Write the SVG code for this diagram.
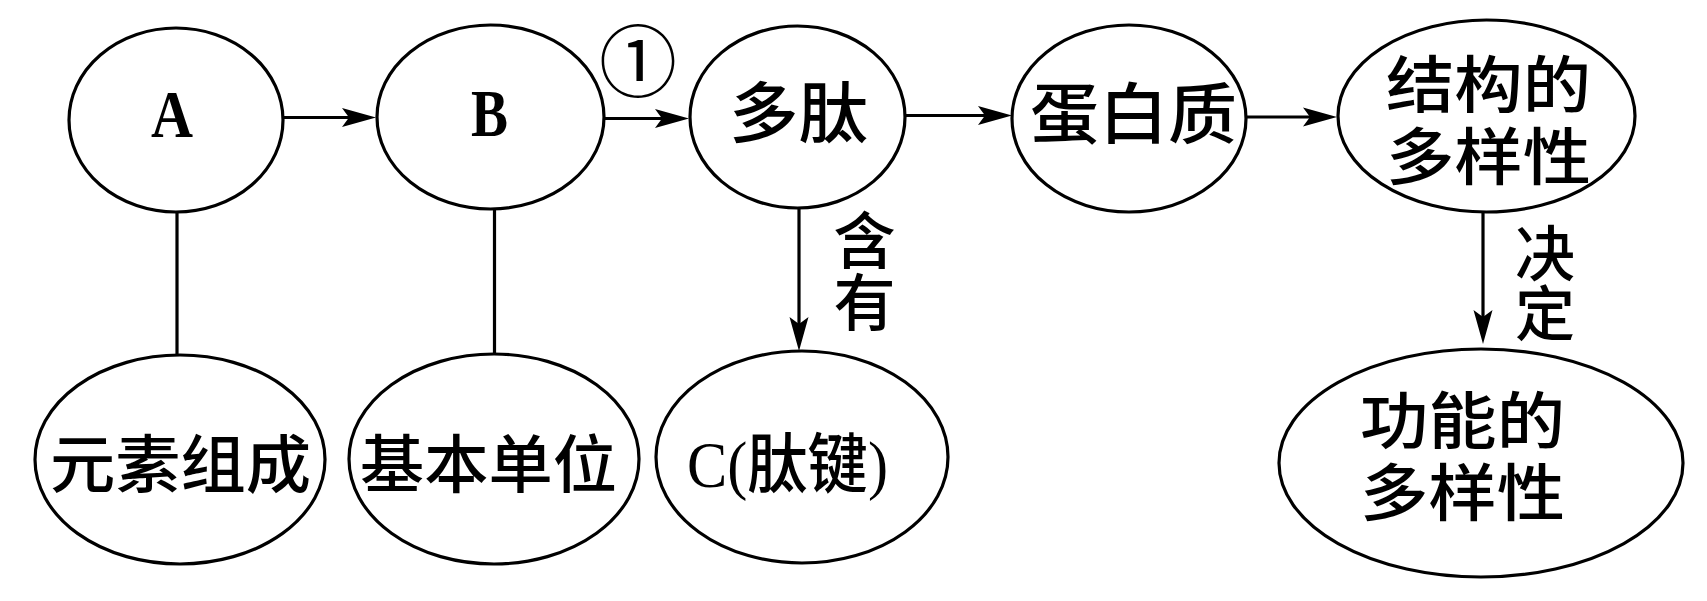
<svg xmlns="http://www.w3.org/2000/svg" width="1707" height="601" viewBox="0 0 1707 601">
<style>
.node{fill:#fff;stroke:#000;stroke-width:3.2}
.cn{font-family:"Noto Sans CJK SC","Noto Sans CJK TC",sans-serif;fill:#000;text-anchor:middle;font-weight:500}
.cs{font-family:"Noto Sans CJK SC","Noto Sans CJK TC",sans-serif;fill:#000;text-anchor:start;font-weight:500}
.vt{writing-mode:tb;text-anchor:middle}
.lat{font-family:"Liberation Serif","Times New Roman",serif;fill:#000}
.mix{font-family:"Liberation Serif","Noto Sans CJK SC",serif;fill:#000;font-weight:500}
.b{font-weight:bold}
.conn line{stroke:#000;stroke-width:3.2;fill:none}
</style>
<defs>
<marker id="arr" markerUnits="userSpaceOnUse" markerWidth="36" markerHeight="22" viewBox="0 0 36 22" refX="27" refY="11" orient="auto">
<path d="M1,1.5 L35,11 L1,20.5 L8,11 Z" fill="#000"/>
</marker>
</defs>
<rect width="1707" height="601" fill="#fff"/>
<g id="connectors" class="conn">
<line x1="283" y1="117.5" x2="368" y2="117.5" marker-end="url(#arr)"/>
<line x1="605" y1="118.5" x2="681" y2="118.5" marker-end="url(#arr)"/>
<line x1="905" y1="115.5" x2="1004" y2="115.5" marker-end="url(#arr)"/>
<line x1="1246" y1="117" x2="1329" y2="117" marker-end="url(#arr)"/>
<line x1="177" y1="211" x2="177" y2="356"/>
<line x1="494.5" y1="208" x2="494.5" y2="355"/>
<line x1="799" y1="207" x2="799" y2="343" marker-end="url(#arr)"/>
<line x1="1483" y1="211" x2="1483" y2="336" marker-end="url(#arr)"/>
<text class="cn vt" x="864.5" y="271" font-size="62">含有</text>
<text class="cn vt" x="1545" y="283.5" font-size="60">决定</text>
<text class="cn" x="638" y="90.5" font-size="78" style="font-weight:400">①</text>
</g>
<g id="nodeA">
<ellipse class="node" cx="176" cy="120" rx="107" ry="92"/>
<text class="lat b" x="151" y="137" font-size="68" textLength="42" lengthAdjust="spacingAndGlyphs">A</text>
</g>
<g id="nodeB">
<ellipse class="node" cx="490.5" cy="117" rx="113.5" ry="92"/>
<text class="lat b" x="471" y="136" font-size="68" textLength="37" lengthAdjust="spacingAndGlyphs">B</text>
</g>
<g id="nodeDuotai">
<ellipse class="node" cx="797.5" cy="117" rx="107.5" ry="91"/>
<text class="cs" x="729" y="137" font-size="66" textLength="139" lengthAdjust="spacingAndGlyphs">多肽</text>
</g>
<g id="nodeProtein">
<ellipse class="node" cx="1129" cy="118.5" rx="117" ry="93.5"/>
<text class="cs" x="1030" y="138" font-size="66" textLength="207" lengthAdjust="spacingAndGlyphs">蛋白质</text>
</g>
<g id="nodeStructure">
<ellipse class="node" cx="1486.5" cy="116" rx="148.5" ry="96"/>
<text class="cs" font-size="62"><tspan x="1386" y="108" textLength="205" lengthAdjust="spacingAndGlyphs">结构的</tspan><tspan x="1386" y="180" textLength="205" lengthAdjust="spacingAndGlyphs">多样性</tspan></text>
</g>
<g id="nodeElements">
<ellipse class="node" cx="180" cy="459.5" rx="145" ry="104.5"/>
<text class="cs" x="50" y="487" font-size="63" textLength="261" lengthAdjust="spacingAndGlyphs">元素组成</text>
</g>
<g id="nodeUnit">
<ellipse class="node" cx="494" cy="459" rx="145" ry="105"/>
<text class="cs" x="360" y="487" font-size="63" textLength="257" lengthAdjust="spacingAndGlyphs">基本单位</text>
</g>
<g id="nodeC">
<ellipse class="node" cx="802" cy="457" rx="146" ry="106"/>
<text class="mix" x="687" y="487" font-size="65" textLength="201" lengthAdjust="spacingAndGlyphs">C(肽键)</text>
</g>
<g id="nodeFunction">
<ellipse class="node" cx="1481" cy="463" rx="202" ry="114"/>
<text class="cs" font-size="62"><tspan x="1360" y="443.5" textLength="205" lengthAdjust="spacingAndGlyphs">功能的</tspan><tspan x="1360" y="515.5" textLength="205" lengthAdjust="spacingAndGlyphs">多样性</tspan></text>
</g>
</svg>
